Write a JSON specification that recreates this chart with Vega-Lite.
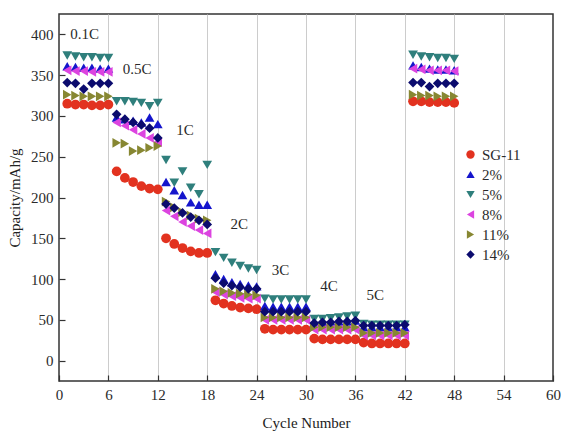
{
  "$schema": "https://vega.github.io/schema/vega-lite/v6.json",
  "width": 494,
  "height": 367,
  "autosize": {"type": "none"},
  "padding": {"left": 59, "top": 14, "right": 8, "bottom": 52},
  "background": "white",
  "config": {
    "view": {"stroke": "#333", "strokeWidth": 1.5},
    "font": "Liberation Serif"
  },
  "datasets": {
    "pts": [
      {"cycle":1,"sample":"SG-11","capacity":315},{"cycle":2,"sample":"SG-11","capacity":314},{"cycle":3,"sample":"SG-11","capacity":314},{"cycle":4,"sample":"SG-11","capacity":313},{"cycle":5,"sample":"SG-11","capacity":313},{"cycle":6,"sample":"SG-11","capacity":314},
      {"cycle":7,"sample":"SG-11","capacity":232},{"cycle":8,"sample":"SG-11","capacity":224},{"cycle":9,"sample":"SG-11","capacity":219},{"cycle":10,"sample":"SG-11","capacity":214},{"cycle":11,"sample":"SG-11","capacity":211},{"cycle":12,"sample":"SG-11","capacity":210},
      {"cycle":13,"sample":"SG-11","capacity":150},{"cycle":14,"sample":"SG-11","capacity":143},{"cycle":15,"sample":"SG-11","capacity":138},{"cycle":16,"sample":"SG-11","capacity":134},{"cycle":17,"sample":"SG-11","capacity":132},{"cycle":18,"sample":"SG-11","capacity":132},
      {"cycle":19,"sample":"SG-11","capacity":74},{"cycle":20,"sample":"SG-11","capacity":70},{"cycle":21,"sample":"SG-11","capacity":67},{"cycle":22,"sample":"SG-11","capacity":65},{"cycle":23,"sample":"SG-11","capacity":64},{"cycle":24,"sample":"SG-11","capacity":63},
      {"cycle":25,"sample":"SG-11","capacity":39},{"cycle":26,"sample":"SG-11","capacity":38},{"cycle":27,"sample":"SG-11","capacity":38},{"cycle":28,"sample":"SG-11","capacity":38},{"cycle":29,"sample":"SG-11","capacity":38},{"cycle":30,"sample":"SG-11","capacity":38},
      {"cycle":31,"sample":"SG-11","capacity":27},{"cycle":32,"sample":"SG-11","capacity":26},{"cycle":33,"sample":"SG-11","capacity":26},{"cycle":34,"sample":"SG-11","capacity":26},{"cycle":35,"sample":"SG-11","capacity":26},{"cycle":36,"sample":"SG-11","capacity":26},
      {"cycle":37,"sample":"SG-11","capacity":22},{"cycle":38,"sample":"SG-11","capacity":21},{"cycle":39,"sample":"SG-11","capacity":21},{"cycle":40,"sample":"SG-11","capacity":21},{"cycle":41,"sample":"SG-11","capacity":21},{"cycle":42,"sample":"SG-11","capacity":21},
      {"cycle":43,"sample":"SG-11","capacity":318},{"cycle":44,"sample":"SG-11","capacity":318},{"cycle":45,"sample":"SG-11","capacity":317},{"cycle":46,"sample":"SG-11","capacity":317},{"cycle":47,"sample":"SG-11","capacity":317},{"cycle":48,"sample":"SG-11","capacity":316},

      {"cycle":1,"sample":"2%","capacity":361},{"cycle":2,"sample":"2%","capacity":360},{"cycle":3,"sample":"2%","capacity":359},{"cycle":4,"sample":"2%","capacity":359},{"cycle":5,"sample":"2%","capacity":358},{"cycle":6,"sample":"2%","capacity":358},
      {"cycle":7,"sample":"2%","capacity":298},{"cycle":8,"sample":"2%","capacity":296},{"cycle":9,"sample":"2%","capacity":294},{"cycle":10,"sample":"2%","capacity":292},{"cycle":11,"sample":"2%","capacity":298},{"cycle":12,"sample":"2%","capacity":290},
      {"cycle":13,"sample":"2%","capacity":219},{"cycle":14,"sample":"2%","capacity":209},{"cycle":15,"sample":"2%","capacity":203},{"cycle":16,"sample":"2%","capacity":194},{"cycle":17,"sample":"2%","capacity":191},{"cycle":18,"sample":"2%","capacity":191},
      {"cycle":19,"sample":"2%","capacity":106},{"cycle":20,"sample":"2%","capacity":100},{"cycle":21,"sample":"2%","capacity":96},{"cycle":22,"sample":"2%","capacity":94},{"cycle":23,"sample":"2%","capacity":92},{"cycle":24,"sample":"2%","capacity":91},
      {"cycle":25,"sample":"2%","capacity":67},{"cycle":26,"sample":"2%","capacity":66},{"cycle":27,"sample":"2%","capacity":66},{"cycle":28,"sample":"2%","capacity":66},{"cycle":29,"sample":"2%","capacity":66},{"cycle":30,"sample":"2%","capacity":66},
      {"cycle":31,"sample":"2%","capacity":47},{"cycle":32,"sample":"2%","capacity":47},{"cycle":33,"sample":"2%","capacity":48},{"cycle":34,"sample":"2%","capacity":48},{"cycle":35,"sample":"2%","capacity":48},{"cycle":36,"sample":"2%","capacity":49},
      {"cycle":37,"sample":"2%","capacity":41},{"cycle":38,"sample":"2%","capacity":41},{"cycle":39,"sample":"2%","capacity":41},{"cycle":40,"sample":"2%","capacity":41},{"cycle":41,"sample":"2%","capacity":41},{"cycle":42,"sample":"2%","capacity":41},
      {"cycle":43,"sample":"2%","capacity":362},{"cycle":44,"sample":"2%","capacity":360},{"cycle":45,"sample":"2%","capacity":358},{"cycle":46,"sample":"2%","capacity":357},{"cycle":47,"sample":"2%","capacity":357},{"cycle":48,"sample":"2%","capacity":356},

      {"cycle":1,"sample":"5%","capacity":374},{"cycle":2,"sample":"5%","capacity":373},{"cycle":3,"sample":"5%","capacity":372},{"cycle":4,"sample":"5%","capacity":372},{"cycle":5,"sample":"5%","capacity":371},{"cycle":6,"sample":"5%","capacity":371},
      {"cycle":7,"sample":"5%","capacity":318},{"cycle":8,"sample":"5%","capacity":318},{"cycle":9,"sample":"5%","capacity":317},{"cycle":10,"sample":"5%","capacity":316},{"cycle":11,"sample":"5%","capacity":312},{"cycle":12,"sample":"5%","capacity":316},
      {"cycle":13,"sample":"5%","capacity":246},{"cycle":14,"sample":"5%","capacity":218},{"cycle":15,"sample":"5%","capacity":232},{"cycle":16,"sample":"5%","capacity":212},{"cycle":17,"sample":"5%","capacity":204},{"cycle":18,"sample":"5%","capacity":240},
      {"cycle":19,"sample":"5%","capacity":133},{"cycle":20,"sample":"5%","capacity":126},{"cycle":21,"sample":"5%","capacity":120},{"cycle":22,"sample":"5%","capacity":116},{"cycle":23,"sample":"5%","capacity":113},{"cycle":24,"sample":"5%","capacity":111},
      {"cycle":25,"sample":"5%","capacity":76},{"cycle":26,"sample":"5%","capacity":75},{"cycle":27,"sample":"5%","capacity":75},{"cycle":28,"sample":"5%","capacity":75},{"cycle":29,"sample":"5%","capacity":75},{"cycle":30,"sample":"5%","capacity":75},
      {"cycle":31,"sample":"5%","capacity":51},{"cycle":32,"sample":"5%","capacity":51},{"cycle":33,"sample":"5%","capacity":52},{"cycle":34,"sample":"5%","capacity":53},{"cycle":35,"sample":"5%","capacity":54},{"cycle":36,"sample":"5%","capacity":55},
      {"cycle":37,"sample":"5%","capacity":45},{"cycle":38,"sample":"5%","capacity":44},{"cycle":39,"sample":"5%","capacity":44},{"cycle":40,"sample":"5%","capacity":44},{"cycle":41,"sample":"5%","capacity":44},{"cycle":42,"sample":"5%","capacity":44},
      {"cycle":43,"sample":"5%","capacity":375},{"cycle":44,"sample":"5%","capacity":373},{"cycle":45,"sample":"5%","capacity":372},{"cycle":46,"sample":"5%","capacity":371},{"cycle":47,"sample":"5%","capacity":371},{"cycle":48,"sample":"5%","capacity":370},

      {"cycle":1,"sample":"8%","capacity":356},{"cycle":2,"sample":"8%","capacity":355},{"cycle":3,"sample":"8%","capacity":355},{"cycle":4,"sample":"8%","capacity":354},{"cycle":5,"sample":"8%","capacity":354},{"cycle":6,"sample":"8%","capacity":354},
      {"cycle":7,"sample":"8%","capacity":292},{"cycle":8,"sample":"8%","capacity":288},{"cycle":9,"sample":"8%","capacity":283},{"cycle":10,"sample":"8%","capacity":278},{"cycle":11,"sample":"8%","capacity":273},{"cycle":12,"sample":"8%","capacity":268},
      {"cycle":13,"sample":"8%","capacity":184},{"cycle":14,"sample":"8%","capacity":177},{"cycle":15,"sample":"8%","capacity":170},{"cycle":16,"sample":"8%","capacity":165},{"cycle":17,"sample":"8%","capacity":160},{"cycle":18,"sample":"8%","capacity":156},
      {"cycle":19,"sample":"8%","capacity":84},{"cycle":20,"sample":"8%","capacity":81},{"cycle":21,"sample":"8%","capacity":79},{"cycle":22,"sample":"8%","capacity":77},{"cycle":23,"sample":"8%","capacity":76},{"cycle":24,"sample":"8%","capacity":76},
      {"cycle":25,"sample":"8%","capacity":50},{"cycle":26,"sample":"8%","capacity":50},{"cycle":27,"sample":"8%","capacity":50},{"cycle":28,"sample":"8%","capacity":50},{"cycle":29,"sample":"8%","capacity":50},{"cycle":30,"sample":"8%","capacity":50},
      {"cycle":31,"sample":"8%","capacity":38},{"cycle":32,"sample":"8%","capacity":38},{"cycle":33,"sample":"8%","capacity":38},{"cycle":34,"sample":"8%","capacity":38},{"cycle":35,"sample":"8%","capacity":38},{"cycle":36,"sample":"8%","capacity":38},
      {"cycle":37,"sample":"8%","capacity":31},{"cycle":38,"sample":"8%","capacity":31},{"cycle":39,"sample":"8%","capacity":31},{"cycle":40,"sample":"8%","capacity":31},{"cycle":41,"sample":"8%","capacity":31},{"cycle":42,"sample":"8%","capacity":31},
      {"cycle":43,"sample":"8%","capacity":358},{"cycle":44,"sample":"8%","capacity":357},{"cycle":45,"sample":"8%","capacity":356},{"cycle":46,"sample":"8%","capacity":356},{"cycle":47,"sample":"8%","capacity":356},{"cycle":48,"sample":"8%","capacity":355},

      {"cycle":1,"sample":"11%","capacity":326},{"cycle":2,"sample":"11%","capacity":325},{"cycle":3,"sample":"11%","capacity":324},{"cycle":4,"sample":"11%","capacity":324},{"cycle":5,"sample":"11%","capacity":324},{"cycle":6,"sample":"11%","capacity":324},
      {"cycle":7,"sample":"11%","capacity":267},{"cycle":8,"sample":"11%","capacity":266},{"cycle":9,"sample":"11%","capacity":257},{"cycle":10,"sample":"11%","capacity":258},{"cycle":11,"sample":"11%","capacity":261},{"cycle":12,"sample":"11%","capacity":263},
      {"cycle":13,"sample":"11%","capacity":195},{"cycle":14,"sample":"11%","capacity":188},{"cycle":15,"sample":"11%","capacity":182},{"cycle":16,"sample":"11%","capacity":178},{"cycle":17,"sample":"11%","capacity":174},{"cycle":18,"sample":"11%","capacity":172},
      {"cycle":19,"sample":"11%","capacity":88},{"cycle":20,"sample":"11%","capacity":85},{"cycle":21,"sample":"11%","capacity":83},{"cycle":22,"sample":"11%","capacity":82},{"cycle":23,"sample":"11%","capacity":81},{"cycle":24,"sample":"11%","capacity":80},
      {"cycle":25,"sample":"11%","capacity":53},{"cycle":26,"sample":"11%","capacity":53},{"cycle":27,"sample":"11%","capacity":53},{"cycle":28,"sample":"11%","capacity":53},{"cycle":29,"sample":"11%","capacity":53},{"cycle":30,"sample":"11%","capacity":53},
      {"cycle":31,"sample":"11%","capacity":41},{"cycle":32,"sample":"11%","capacity":41},{"cycle":33,"sample":"11%","capacity":41},{"cycle":34,"sample":"11%","capacity":41},{"cycle":35,"sample":"11%","capacity":41},{"cycle":36,"sample":"11%","capacity":41},
      {"cycle":37,"sample":"11%","capacity":34},{"cycle":38,"sample":"11%","capacity":34},{"cycle":39,"sample":"11%","capacity":34},{"cycle":40,"sample":"11%","capacity":34},{"cycle":41,"sample":"11%","capacity":34},{"cycle":42,"sample":"11%","capacity":34},
      {"cycle":43,"sample":"11%","capacity":326},{"cycle":44,"sample":"11%","capacity":325},{"cycle":45,"sample":"11%","capacity":325},{"cycle":46,"sample":"11%","capacity":324},{"cycle":47,"sample":"11%","capacity":324},{"cycle":48,"sample":"11%","capacity":324},

      {"cycle":1,"sample":"14%","capacity":341},{"cycle":2,"sample":"14%","capacity":340},{"cycle":3,"sample":"14%","capacity":333},{"cycle":4,"sample":"14%","capacity":340},{"cycle":5,"sample":"14%","capacity":340},{"cycle":6,"sample":"14%","capacity":340},
      {"cycle":7,"sample":"14%","capacity":302},{"cycle":8,"sample":"14%","capacity":296},{"cycle":9,"sample":"14%","capacity":292},{"cycle":10,"sample":"14%","capacity":289},{"cycle":11,"sample":"14%","capacity":285},{"cycle":12,"sample":"14%","capacity":273},
      {"cycle":13,"sample":"14%","capacity":192},{"cycle":14,"sample":"14%","capacity":187},{"cycle":15,"sample":"14%","capacity":181},{"cycle":16,"sample":"14%","capacity":176},{"cycle":17,"sample":"14%","capacity":172},{"cycle":18,"sample":"14%","capacity":167},
      {"cycle":19,"sample":"14%","capacity":101},{"cycle":20,"sample":"14%","capacity":95},{"cycle":21,"sample":"14%","capacity":92},{"cycle":22,"sample":"14%","capacity":90},{"cycle":23,"sample":"14%","capacity":88},{"cycle":24,"sample":"14%","capacity":88},
      {"cycle":25,"sample":"14%","capacity":60},{"cycle":26,"sample":"14%","capacity":60},{"cycle":27,"sample":"14%","capacity":60},{"cycle":28,"sample":"14%","capacity":60},{"cycle":29,"sample":"14%","capacity":60},{"cycle":30,"sample":"14%","capacity":60},
      {"cycle":31,"sample":"14%","capacity":46},{"cycle":32,"sample":"14%","capacity":47},{"cycle":33,"sample":"14%","capacity":47},{"cycle":34,"sample":"14%","capacity":48},{"cycle":35,"sample":"14%","capacity":48},{"cycle":36,"sample":"14%","capacity":49},
      {"cycle":37,"sample":"14%","capacity":43},{"cycle":38,"sample":"14%","capacity":43},{"cycle":39,"sample":"14%","capacity":43},{"cycle":40,"sample":"14%","capacity":43},{"cycle":41,"sample":"14%","capacity":43},{"cycle":42,"sample":"14%","capacity":44},
      {"cycle":43,"sample":"14%","capacity":341},{"cycle":44,"sample":"14%","capacity":341},{"cycle":45,"sample":"14%","capacity":336},{"cycle":46,"sample":"14%","capacity":340},{"cycle":47,"sample":"14%","capacity":340},{"cycle":48,"sample":"14%","capacity":340}
    ],
    "notes": [
      {"cycle": 3.1, "capacity": 400, "label": "0.1C"},
      {"cycle": 9.5, "capacity": 357, "label": "0.5C"},
      {"cycle": 15.3, "capacity": 283, "label": "1C"},
      {"cycle": 21.9, "capacity": 167, "label": "2C"},
      {"cycle": 26.9, "capacity": 111, "label": "3C"},
      {"cycle": 32.8, "capacity": 92, "label": "4C"},
      {"cycle": 38.4, "capacity": 81, "label": "5C"}
    ]
  },
  "layer": [
    {
      "data": {"name": "pts"},
      "mark": {"type": "point", "filled": true, "opacity": 1, "size": 95},
      "encoding": {
        "x": {
          "field": "cycle", "type": "quantitative",
          "scale": {"domain": [0, 60], "nice": false},
          "axis": {
            "title": "Cycle Number",
            "titleFontSize": 15, "titleFontWeight": "normal", "titleColor": "#222", "titlePadding": 13,
            "values": [0,3,6,9,12,15,18,21,24,27,30,33,36,39,42,45,48,51,54,57,60],
            "labelExpr": "datum.value % 6 == 0 ? datum.label : ''",
            "labelFontSize": 15, "labelColor": "#2a2a2a", "labelPadding": 12,
            "labelFlush": false,
            "domain": false,
            "tickColor": "#333", "tickWidth": 1.2,
            "tickSize": {"condition": {"test": "datum.value % 6 == 0", "value": -6}, "value": -3},
            "grid": true, "gridColor": "#cccccc", "gridWidth": 1,
            "gridOpacity": {"condition": {"test": "datum.value % 6 == 0 && datum.value > 0 && datum.value < 60", "value": 1}, "value": 0}
          }
        },
        "y": {
          "field": "capacity", "type": "quantitative",
          "scale": {"domain": [-25, 425], "nice": false},
          "axis": {
            "title": "Capacity/mAh/g",
            "titleFontSize": 15, "titleFontWeight": "normal", "titleColor": "#222", "titlePadding": 8,
            "values": [0,25,50,75,100,125,150,175,200,225,250,275,300,325,350,375,400],
            "labelExpr": "datum.value % 50 == 0 ? datum.label : ''",
            "labelFontSize": 15, "labelColor": "#2a2a2a", "labelPadding": 12,
            "labelFlush": false,
            "domain": false,
            "tickColor": "#333", "tickWidth": 1.2,
            "tickSize": {"condition": {"test": "datum.value % 50 == 0", "value": -6}, "value": -3},
            "grid": false
          }
        },
        "shape": {
          "field": "sample", "type": "nominal",
          "scale": {
            "domain": ["SG-11", "2%", "5%", "8%", "11%", "14%"],
            "range": ["circle", "triangle-up", "triangle-down", "triangle-left", "triangle-right", "diamond"]
          },
          "legend": null
        },
        "color": {
          "field": "sample", "type": "nominal",
          "scale": {
            "domain": ["SG-11", "2%", "5%", "8%", "11%", "14%"],
            "range": ["#e2321f", "#1515cc", "#2f7f7c", "#dc44e0", "#878732", "#0b0b6e"]
          },
          "legend": {
            "title": null, "orient": "none", "legendX": 404, "legendY": 133,
            "symbolType": "circle",
            "labelFontSize": 15, "labelColor": "#2a2a2a", "symbolSize": 70,
            "rowPadding": 4, "padding": 0, "symbolOpacity": 1,
            "symbolStrokeWidth": 0
          }
        }
      }
    },
    {
      "data": {"name": "notes"},
      "mark": {"type": "text", "fontSize": 15, "color": "#2a2a2a", "font": "Liberation Serif"},
      "encoding": {
        "x": {"field": "cycle", "type": "quantitative"},
        "y": {"field": "capacity", "type": "quantitative"},
        "text": {"field": "label"}
      }
    }
  ]
}
